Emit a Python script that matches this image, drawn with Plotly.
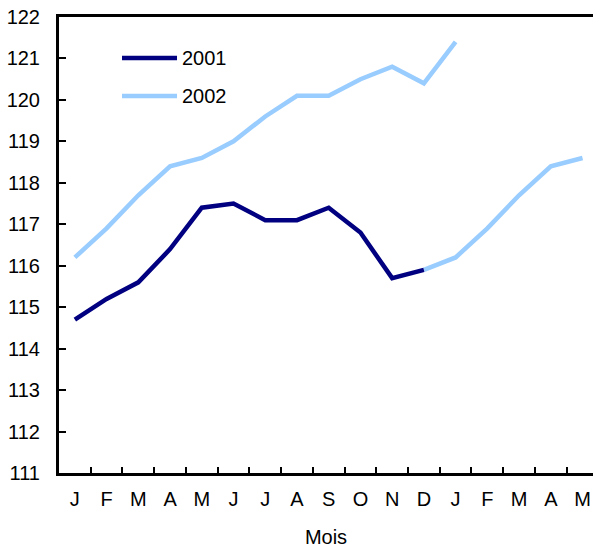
import plotly.graph_objects as go

month_labels = ["J", "F", "M", "A", "M", "J", "J", "A", "S", "O", "N", "D",
                "J", "F", "M", "A", "M"]
y_ticks = [111, 112, 113, 114, 115, 116, 117, 118, 119, 120, 121, 122]

s2001 = [114.7, 115.2, 115.6, 116.4, 117.4, 117.5, 117.1, 117.1, 117.4, 116.8, 115.7, 115.9]
s2002 = [116.2, 116.9, 117.7, 118.4, 118.6, 119.0, 119.6, 120.1, 120.1, 120.5, 120.8, 120.4, 121.4]
# continuation drawn from December 2001 onward
s2002_cont = [115.9, 116.2, 116.9, 117.7, 118.4, 118.6]
cont_start = 11

NAVY = "#000080"
LIGHT = "#99CCFF"
FONT = "Liberation Sans, Arial, sans-serif"
FS = 20
LW = 4.5

x_all = list(range(len(month_labels)))

fig = go.Figure()
fig.add_trace(go.Scatter(x=x_all[:len(s2002)], y=s2002, mode="lines", name="2002",
                         line=dict(color=LIGHT, width=LW), showlegend=False))
fig.add_trace(go.Scatter(x=x_all[cont_start:cont_start + len(s2002_cont)], y=s2002_cont,
                         mode="lines", name="2002", line=dict(color=LIGHT, width=LW),
                         showlegend=False))
fig.add_trace(go.Scatter(x=x_all[:len(s2001)], y=s2001, mode="lines", name="2001",
                         line=dict(color=NAVY, width=LW), showlegend=False))

# manual legend (wide line samples as in reference)
legend_items = [("2001", NAVY, 0.910), ("2002", LIGHT, 0.827)]
for label, col, yy in legend_items:
    fig.add_shape(type="line", xref="paper", yref="paper", x0=0.118, x1=0.221,
                  y0=yy, y1=yy, line=dict(color=col, width=LW))
    fig.add_annotation(xref="paper", yref="paper", x=0.226, y=yy, text=label,
                       showarrow=False, xanchor="left", yanchor="middle",
                       font=dict(family=FONT, size=FS, color="black"))

fig.update_layout(
    width=593, height=548, autosize=False,
    margin=dict(l=59, r=0, t=17, b=75, autoexpand=False),
    paper_bgcolor="white", plot_bgcolor="white",
    font=dict(family=FONT, size=FS, color="black"),
    showlegend=False,
)
fig.update_xaxes(
    range=[-0.5, 16.33], automargin=False,
    tickmode="array", tickvals=x_all, ticktext=month_labels,
    ticks="", showgrid=False, zeroline=False,
    showline=True, linecolor="black", linewidth=3, mirror=True,
    ticklabelstandoff=6,
    minor=dict(tickmode="array", tickvals=[i + 0.5 for i in range(16)],
               ticks="inside", ticklen=6, tickwidth=2, tickcolor="black", showgrid=False),
    title=dict(text="Mois", standoff=26, font=dict(family=FONT, size=FS)),
)
fig.update_yaxes(
    range=[111, 122], automargin=False,
    tickmode="array", tickvals=y_ticks,
    ticks="inside", ticklen=7, tickwidth=2, tickcolor="black",
    showgrid=False, zeroline=False,
    showline=True, linecolor="black", linewidth=3,
    ticklabelstandoff=12,
)

fig.write_html("out.html", config={"displayModeBar": False},
               post_script="document.body.style.margin='0';document.body.style.overflow='hidden';")
